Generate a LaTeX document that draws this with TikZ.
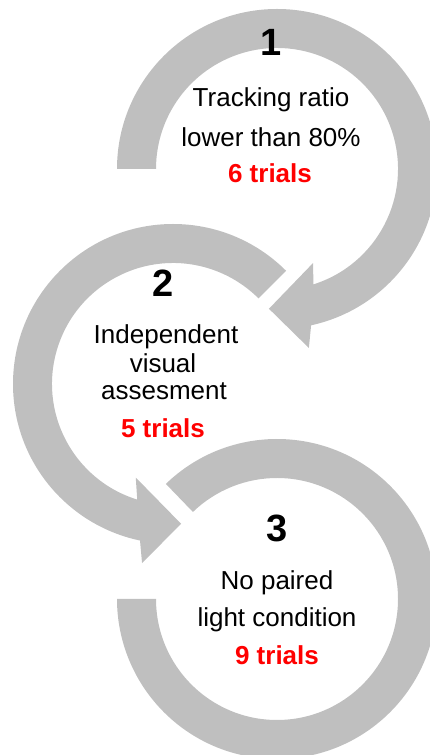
\documentclass[tikz,border=0pt]{standalone}
\usepackage{fontspec}
\setmainfont{Liberation Sans}
\definecolor{ringgray}{RGB}{191,191,191}
\definecolor{trialred}{RGB}{255,0,0}
\tikzset{
  ring/.style={fill=ringgray, draw=none},
  stepnum/.style={anchor=base, inner sep=0pt, font=\fontsize{38}{40}\selectfont\bfseries},
  body/.style={anchor=base, inner sep=0pt, font=\fontsize{26}{30}\selectfont},
  trials/.style={anchor=base, inner sep=0pt, text=trialred, font=\fontsize{26}{30}\selectfont\bfseries},
}
\begin{document}
\begin{tikzpicture}[x=1pt,y=1pt]
\useasboundingbox (0,0) rectangle (430,755);
\clip (0,0) rectangle (430,755);

% step 1: ring from the left, clockwise over the top, head pointing down-left
\begin{scope}[shift={(277,586)}]
  \fill[ring] (180:160) arc[start angle=180, end angle=-77.7, radius=160]
    -- (-79.9:181.8) -- (-93.3:140) -- (-69:100.7) -- (-72.5:121)
    arc[start angle=-72.5, end angle=180, radius=121] -- cycle;
\end{scope}

% step 2: ring from the upper right, anticlockwise, head pointing down-right
\begin{scope}[shift={(173,371)}]
  \fill[ring] (45:160) arc[start angle=45, end angle=258.1, radius=160]
    -- (260.2:181.8) -- (273.3:140) -- (248.3:100.7) -- (252.8:121)
    arc[start angle=252.8, end angle=45, radius=121] -- cycle;
\end{scope}

% step 3: open ring from the upper left, clockwise round to the left
\begin{scope}[shift={(277,156)}]
  \fill[ring] (134:160) arc[start angle=134, end angle=-180, radius=160]
    -- (-180:121) arc[start angle=-180, end angle=134, radius=121] -- cycle;
\end{scope}

% labels
\node[stepnum] (n1) at (271,699) {1};
\node[body] (t1a) at (271,648) {Tracking ratio};
\node[body] (t1b) at (271,608) {lower than 80\%};
\node[trials] (r1) at (270,572) {6 trials};

\node[stepnum] (n2) at (163,458) {2};
\node[body] (t2a) at (166,411) {Independent};
\node[body] (t2b) at (163,382) {visual};
\node[body] (t2c) at (164,355) {assesment};
\node[trials] (r2) at (163,317) {5 trials};

\node[stepnum] (n3) at (277,213) {3};
\node[body] (t3a) at (277,165) {No paired};
\node[body] (t3b) at (277,128) {light condition};
\node[trials] (r3) at (277,90) {9 trials};
\end{tikzpicture}
\end{document}
